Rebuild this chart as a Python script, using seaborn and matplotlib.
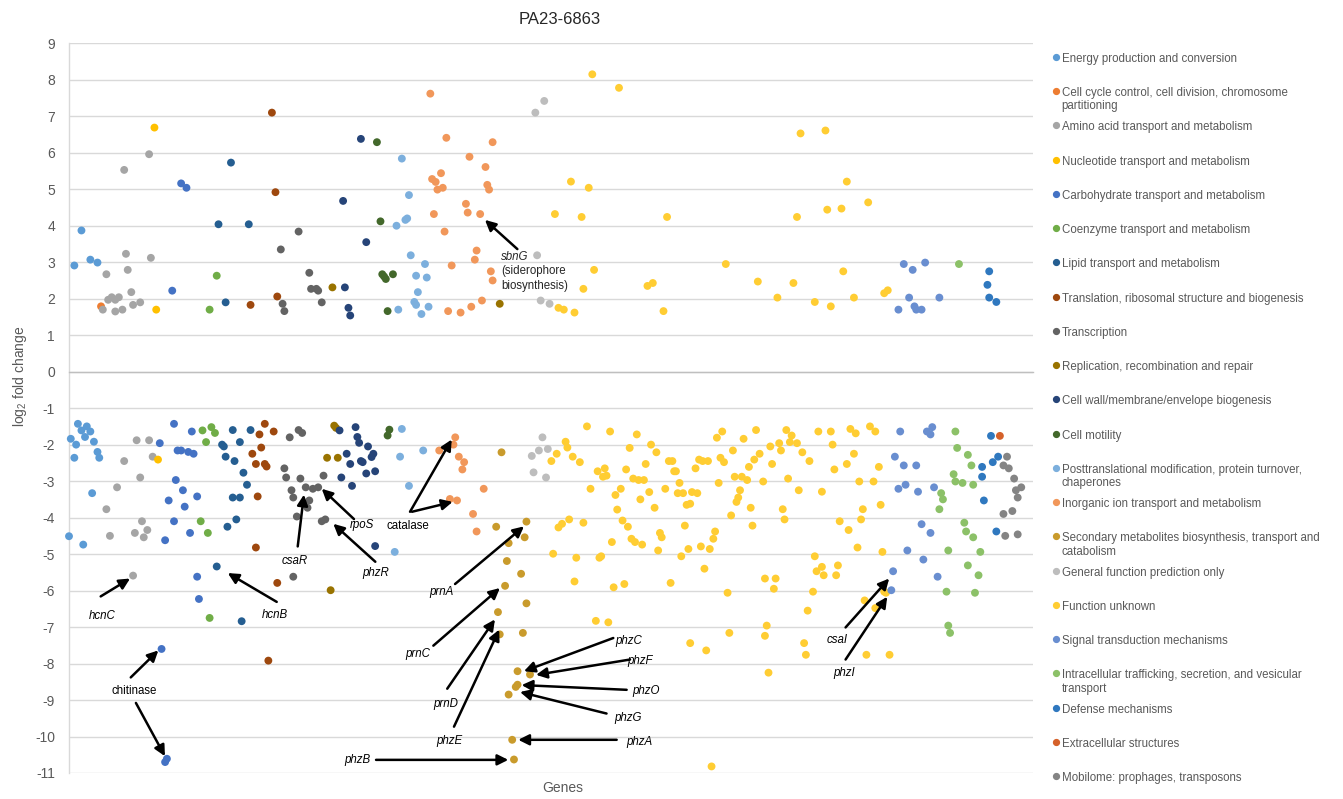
import matplotlib
matplotlib.use("Agg")
import matplotlib.pyplot as plt
from matplotlib.lines import Line2D
import pandas as pd
import seaborn as sns

W, H = 1343, 799

# ── COG categories (legend order) ─────────────────────────────────────────────
CATEGORIES = [
    "Energy production and conversion",
    "Cell cycle control, cell division, chromosome partitioning",
    "Amino acid transport and metabolism",
    "Nucleotide transport and metabolism",
    "Carbohydrate transport and metabolism",
    "Coenzyme transport and metabolism",
    "Lipid transport and metabolism",
    "Translation, ribosomal structure and biogenesis",
    "Transcription",
    "Replication, recombination and repair",
    "Cell wall/membrane/envelope biogenesis",
    "Cell motility",
    "Posttranslational modification, protein turnover, chaperones",
    "Inorganic ion transport and metabolism",
    "Secondary metabolites biosynthesis, transport and catabolism",
    "General function prediction only",
    "Function unknown",
    "Signal transduction mechanisms",
    "Intracellular trafficking, secretion, and vesicular transport",
    "Defense mechanisms",
    "Extracellular structures",
    "Mobilome: prophages, transposons",
]
LEGEND_LABELS = [
    "Energy production and conversion",
    "Cell cycle control, cell division, chromosome\npartitioning",
    "Amino acid transport and metabolism",
    "Nucleotide transport and metabolism",
    "Carbohydrate transport and metabolism",
    "Coenzyme transport and metabolism",
    "Lipid transport and metabolism",
    "Translation, ribosomal structure and biogenesis",
    "Transcription",
    "Replication, recombination and repair",
    "Cell wall/membrane/envelope biogenesis",
    "Cell motility",
    "Posttranslational modification, protein turnover,\nchaperones",
    "Inorganic ion transport and metabolism",
    "Secondary metabolites biosynthesis, transport and\ncatabolism",
    "General function prediction only",
    "Function unknown",
    "Signal transduction mechanisms",
    "Intracellular trafficking, secretion, and vesicular\ntransport",
    "Defense mechanisms",
    "Extracellular structures",
    "Mobilome: prophages, transposons",
]
COLORS = [
    "#5B9BD5", "#ED7D31", "#A5A5A5", "#FFC000", "#4472C4", "#70AD47",
    "#255E91", "#9E480E", "#636363", "#997300", "#264478", "#43682B",
    "#7CAFDD", "#F1975A", "#C99B2C", "#BDBDBD", "#FFCD33", "#698ED0",
    "#8CC168", "#2F78BF", "#D5612A", "#848484",
]

# ── Data: gene position (x) and log2 fold change (y) per category ─────────────
energy_x = [3, 7, 12, 16, 1, 0, 3, 4, 5, 7, 9, 10, 12, 14, 16, 17, 13, 8]
energy_y = [2.91, 3.87, 3.07, 2.99, -1.84, -4.51, -2.36, -2.00, -1.43, -1.61,
            -1.79, -1.50, -1.64, -1.92, -2.20, -2.36, -3.33, -4.74]

cellcycle_x = [18]
cellcycle_y = [1.79]

amino_x = [21, 19, 22, 24, 26, 28, 26, 30, 31, 32, 33, 35, 36, 40, 45, 46,
           31, 38, 45, 47, 40, 27, 21, 23, 37, 41, 44, 42, 36]
amino_y = [2.67, 1.70, 1.97, 2.04, 1.97, 2.04, 1.65, 1.70, 5.53, 3.23, 2.79,
           2.18, 1.83, 1.90, 5.96, 3.12,
           -2.45, -1.88, -1.88, -2.33, -2.90, -3.17, -3.77, -4.50, -4.42,
           -4.10, -4.34, -4.54, -5.59]

nucleotide_x = [48, 49, 50]
nucleotide_y = [6.69, 1.70, -2.41]

carbo_x = [58, 63, 66, 59, 51, 61, 63, 67, 70, 69, 60, 64, 56, 72, 65, 59,
           68, 54, 72, 73, 52, 54, 55]
carbo_y = [2.22, 5.16, 5.04, -1.43, -1.96, -2.16, -2.16, -2.20, -2.25, -1.64,
           -2.97, -3.25, -3.53, -3.42, -3.70, -4.10, -4.42, -4.62, -5.62,
           -6.23, -7.60, -10.70, -10.61]

coenzyme_x = [83, 79, 75, 80, 82, 77, 74, 78, 79]
coenzyme_y = [2.63, 1.70, -1.61, -1.52, -1.68, -1.93, -4.10, -4.42, -6.75]

lipid_x = [84, 91, 88, 101, 86, 87, 92, 102, 96, 88, 93, 98, 100, 92, 96,
           94, 89, 83, 97]
lipid_y = [4.04, 5.73, 1.90, 4.04, -2.00, -2.05, -1.60, -1.60, -1.93, -2.33,
           -2.45, -2.77, -3.10, -3.45, -3.45, -4.05, -4.25, -5.34, -6.84]

translation_x = [114, 116, 102, 117, 110, 107, 115, 108, 103, 105, 110, 111,
                 106, 105, 117, 112]
translation_y = [7.10, 4.92, 1.83, 2.06, -1.43, -1.72, -1.64, -2.08, -2.25,
                 -2.53, -2.53, -2.60, -3.42, -4.82, -5.79, -7.92]

transcription_x = [119, 129, 120, 121, 135, 136, 139, 140, 142,
                   124, 129, 131, 121, 122, 130, 143, 125, 133, 126, 135,
                   134, 137, 140, 128, 142, 144, 126]
transcription_y = [3.35, 3.84, 1.86, 1.66, 2.71, 2.27, 2.27, 2.22, 1.90,
                   -1.80, -1.60, -1.68, -2.65, -2.90, -2.93, -2.85, -3.25,
                   -3.17, -3.45, -3.53, -3.73, -3.21, -3.17, -3.97, -4.10,
                   -4.05, -5.62]

replication_x = [148, 242, 149, 150, 145, 151, 147]
replication_y = [2.31, 1.86, -1.48, -1.54, -2.36, -2.36, -5.99]

cellwall_x = [164, 154, 167, 155, 157, 158, 152, 161, 162, 163, 168, 156,
              171, 170, 164, 165, 158, 172, 167, 153, 159, 172]
cellwall_y = [6.38, 4.68, 3.55, 2.31, 1.75, 1.54, -1.61, -1.52, -1.79, -1.95,
              -2.05, -2.25, -2.25, -2.34, -2.45, -2.48, -2.53, -2.73, -2.79,
              -2.90, -3.13, -4.78]

motility_x = [173, 175, 176, 177, 178, 182, 179, 180, 179]
motility_y = [6.29, 4.12, 2.67, 2.61, 2.54, 2.67, 1.66, -1.59, -1.75]

posttrans_x = [187, 191, 184, 189, 190, 192, 200, 195, 201, 196, 194, 195,
               185, 202, 198, 187, 186, 199, 191, 183]
posttrans_y = [5.84, 4.84, 4.00, 4.16, 4.20, 3.19, 2.95, 2.63, 2.58, 2.18,
               1.91, 1.83, 1.70, 1.78, 1.58, -1.57, -2.33, -2.16, -3.13, -4.94]

inorganic_x = [203, 212, 238, 225, 234, 209, 204, 206, 207, 210, 235, 236,
               223, 205, 224, 231, 211, 229, 228, 215, 237, 238, 232, 226,
               213, 220, 217, 216, 208, 219, 222, 221, 233, 214, 218, 227, 229]
inorganic_y = [7.62, 6.41, 6.29, 5.89, 5.61, 5.44, 5.28, 5.20, 4.99, 5.04,
               5.12, 4.99, 4.60, 4.32, 4.36, 4.32, 3.84, 3.32, 3.07, 2.91,
               2.75, 2.50, 1.95, 1.78, 1.66, 1.62, -1.80, -2.00, -2.16, -2.33,
               -2.48, -2.68, -3.21, -3.49, -3.53, -3.90, -4.38]

secondary_x = [243, 240, 257, 256, 247, 246, 254, 245, 257, 241, 242, 255,
               252, 259, 252, 251, 247, 249, 250]
secondary_y = [-2.21, -4.25, -4.11, -4.54, -4.70, -5.19, -5.54, -5.87, -6.35,
               -6.59, -7.20, -7.16, -8.21, -8.30, -8.58, -8.64, -8.85, -10.09,
               -10.63]

general_x = [262, 267, 263, 265, 270, 260, 264, 269, 266, 261, 268]
general_y = [7.10, 7.42, 3.19, 1.95, 1.86, -2.31, -2.16, -2.12, -1.80, -2.76,
             -2.90]

unknown_x = [294, 309, 282, 292, 273, 288, 295, 289, 275, 278, 284,
             411, 425, 437, 449, 426, 434, 336, 409, 369, 435, 387, 407, 325,
             328, 398, 441, 458, 460, 419, 428, 334,
             291, 304, 279, 280, 274, 283, 271, 287, 297, 301, 300, 302, 313,
             293, 310, 307, 308, 281, 277, 275, 289, 311, 314, 305, 272, 285,
             298, 299, 284, 306, 312, 296, 303,
             319, 315, 327, 330, 324, 317, 320, 323, 337, 339, 340, 341, 343,
             335, 326, 321, 329, 342, 345, 350, 353, 347, 349, 316, 318, 322,
             332, 333, 331, 346, 348, 344, 355, 360, 362, 363, 338, 357,
             354, 356, 359, 352, 364, 367, 365, 366, 368, 373, 379, 374, 378,
             381, 377, 376, 375, 383, 372, 384, 382, 385, 388, 386, 390, 394,
             395, 399, 400, 403, 406, 405, 409, 404, 412, 410, 416, 401, 402,
             421, 428, 429, 423, 430, 437, 441, 439, 442, 450, 453, 444, 452,
             455, 446, 445, 456, 433, 438, 443, 457, 419, 420, 423, 424, 432,
             431, 391, 397, 396, 370, 418, 415, 447, 453, 458, 459, 371, 349,
             358, 392, 391, 413, 414, 448, 461, 393, 361]
unknown_y = [8.15, 7.78, 5.21, 5.04, 4.32, 4.24, 2.79, 2.27, 1.75, 1.70, 1.62,
             6.53, 6.61, 5.21, 4.64, 4.44, 4.47, 4.24, 4.24, 2.95, 2.75, 2.47,
             2.43, 2.35, 2.43, 2.03, 2.03, 2.15, 2.23, 1.91, 1.79, 1.66,
             -1.50, -1.64, -1.92, -2.08, -2.25, -2.33, -2.45, -2.48, -2.73,
             -2.65, -2.88, -2.85, -2.68, -3.21, -3.21, -3.38, -3.78, -4.05,
             -4.17, -4.27, -4.14, -4.08, -4.25, -4.67, -4.99, -5.10, -5.10,
             -5.06, -5.75, -5.91, -5.82, -6.83, -6.87,
             -1.72, -2.09, -2.00, -2.21, -2.53, -2.93, -2.97, -2.97, -2.45,
             -2.45, -2.73, -2.73, -3.05, -3.21, -3.30, -3.50, -3.73, -3.33,
             -3.33, -3.30, -3.33, -3.65, -3.62, -4.58, -4.67, -4.74, -4.42,
             -4.54, -4.90, -4.22, -4.86, -5.06, -4.79, -4.86, -4.58, -4.38,
             -5.79, -5.40,
             -2.41, -2.45, -2.45, -2.65, -1.81, -1.64, -3.05, -2.36, -2.48,
             -2.16, -1.84, -2.88, -2.88, -2.97, -3.25, -3.45, -3.57, -3.73,
             -3.94, -4.22, -2.61, -2.41, -2.25, -1.60, -3.01, -2.05, -2.53,
             -1.96, -2.16, -1.60, -1.75, -1.93, -1.96, -2.93, -2.21, -3.25,
             -2.45, -3.77, -4.05,
             -1.64, -1.64, -2.00, -3.29, -2.68, -2.53, -2.25, -1.57, -1.69,
             -1.50, -1.64, -3.01, -3.01, -2.61, -3.77, -4.05, -3.65, -4.10,
             -4.34, -4.82, -4.94, -5.06, -5.47, -5.35, -5.58, -5.31, -5.58,
             -5.67, -5.67, -5.95, -6.06, -6.03, -6.55, -6.27, -6.48, -6.03,
             -6.06, -7.16, -7.44, -7.64, -6.96, -7.24, -7.44, -7.76, -7.76,
             -7.76, -8.25, -10.82]

signal_x = [469, 474, 481, 472, 489, 466, 475, 476, 479, 467, 482, 484, 485,
            464, 469, 476, 466, 470, 477, 486, 479, 484, 471, 480, 488, 463,
            462]
signal_y = [2.95, 2.79, 2.99, 2.03, 2.03, 1.70, 1.79, 1.70, 1.70, -1.64,
            -1.64, -1.72, -1.52, -2.33, -2.57, -2.57, -3.21, -3.10, -3.29,
            -3.17, -4.18, -4.42, -4.90, -5.15, -5.62, -5.47, -5.99]

intracellular_x = [500, 498, 499, 505, 507, 497, 498, 502, 508, 490, 491,
                   489, 503, 504, 508, 494, 512, 505, 511, 493, 509, 494, 495]
intracellular_y = [2.95, -1.64, -2.09, -2.28, -2.57, -2.81, -3.01, -3.05,
                   -3.10, -3.33, -3.50, -3.77, -4.14, -4.38, -4.54, -4.90,
                   -4.94, -5.31, -5.58, -6.03, -6.06, -6.96, -7.16]

defense_x = [517, 516, 517, 521, 518, 522, 519, 513, 513, 514, 521]
defense_y = [2.75, 2.38, 2.03, 1.91, -1.76, -2.33, -2.48, -2.61, -2.88,
             -3.53, -4.38]

extracellular_x = [523]
extracellular_y = [-1.76]

mobilome_x = [527, 525, 528, 531, 532, 535, 533, 525, 530, 526, 533]
mobilome_y = [-2.33, -2.57, -2.65, -2.93, -3.25, -3.17, -3.45, -3.90, -3.82,
              -4.50, -4.46]

SERIES = [
    (energy_x, energy_y), (cellcycle_x, cellcycle_y), (amino_x, amino_y),
    (nucleotide_x, nucleotide_y), (carbo_x, carbo_y),
    (coenzyme_x, coenzyme_y), (lipid_x, lipid_y),
    (translation_x, translation_y), (transcription_x, transcription_y),
    (replication_x, replication_y), (cellwall_x, cellwall_y),
    (motility_x, motility_y), (posttrans_x, posttrans_y),
    (inorganic_x, inorganic_y), (secondary_x, secondary_y),
    (general_x, general_y), (unknown_x, unknown_y), (signal_x, signal_y),
    (intracellular_x, intracellular_y), (defense_x, defense_y),
    (extracellular_x, extracellular_y), (mobilome_x, mobilome_y),
]

# ── Gene annotations: (label, text position, italic, arrow start/end list) ────
ANNOTATIONS = [
    ("hcnC", (18.9, -6.70), True, [((17.8, -6.16), (34.3, -5.67))]),
    ("hcnB", (115.6, -6.68), True, [((116.7, -6.31), (89.2, -5.52))]),
    ("csaR", (127.0, -5.20), True, [((128.5, -4.79), (132.0, -3.37))]),
    ("rpoS", (164.6, -4.21), True, [((160.1, -4.04), (142.0, -3.21))]),
    ("phzR", (172.2, -5.53), True, [((172.1, -5.21), (148.5, -4.17))]),
    ("catalase", (190.3, -4.24), False, [((191.6, -3.84), (215.0, -1.86)),
                                         ((192.7, -3.84), (215.5, -3.57))]),
    ("prnA", (209.3, -6.05), True, [((216.9, -5.82), (255.6, -4.24))]),
    ("prnC", (196.2, -7.73), True, [((204.7, -7.51), (242.1, -5.93))]),
    ("prnD", (211.8, -9.10), True, [((212.5, -8.69), (239.3, -6.79))]),
    ("phzE", (213.7, -10.12), True, [((216.3, -9.73), (241.7, -7.07))]),
    ("phzB", (161.8, -10.63), True, [((172.5, -10.64), (246.8, -10.64))]),
    ("phzC", (314.2, -7.37), True, [((305.8, -7.30), (255.6, -8.21))]),
    ("phzF", (320.8, -7.92), True, [((315.2, -7.89), (262.4, -8.31))]),
    ("phzO", (324.2, -8.74), True, [((313.3, -8.72), (254.3, -8.59))]),
    ("phzG", (314.2, -9.48), True, [((302.0, -9.37), (253.4, -8.78))]),
    ("phzA", (320.6, -10.16), True, [((307.7, -10.09), (252.4, -10.09))]),
    ("csaI", (431.7, -7.36), True, [((436.3, -7.01), (460.8, -5.67))]),
    ("phzI", (435.4, -8.27), True, [((436.3, -7.89), (459.7, -6.17))]),
    ("chitinase", (36.4, -8.74), False, [((34.7, -8.38), (50.2, -7.64)),
                                          ((37.6, -9.08), (53.9, -10.54))]),
]

frames = []
for cat, (xs, ys) in zip(CATEGORIES, SERIES):
    frames.append(pd.DataFrame({"gene": xs, "log2fc": ys, "cog": cat}))
df = pd.concat(frames, ignore_index=True)

sns.set_style("white")
plt.rcParams["font.family"] = ["Liberation Sans", "DejaVu Sans"]
plt.rcParams["mathtext.fontset"] = "custom"
plt.rcParams["mathtext.rm"] = "Liberation Sans"
plt.rcParams["mathtext.it"] = "Liberation Sans:italic"
plt.rcParams["axes.unicode_minus"] = False

GRAY_TXT = "#595959"
ARROW = dict(arrowstyle="-|>", color="black", lw=1.8, mutation_scale=16,
             shrinkA=0, shrinkB=0)

fig = plt.figure(figsize=(W / 100, H / 100), dpi=100)
ax = fig.add_axes([69 / W, 1 - 773 / H, (1033 - 69) / W, (773 - 43.3) / H])

sns.scatterplot(
    data=df, x="gene", y="log2fc", hue="cog", hue_order=CATEGORIES,
    palette=dict(zip(CATEGORIES, COLORS)), s=32, linewidth=0,
    legend=False, ax=ax, clip_on=False, zorder=3,
)

# ── Axes styling (Excel-like) ─────────────────────────────────────────────────
ax.set_xlim(0, 541.6)
ax.set_ylim(-11, 9)
ax.set_yticks(range(-11, 10))
ax.set_xticks(range(0, 600, 100))
ax.grid(axis="y", color="#D9D9D9", lw=1.0)
ax.grid(axis="x", visible=False)
ax.set_axisbelow(True)
for side in ("top", "right"):
    ax.spines[side].set_visible(False)
ax.spines["left"].set_color("#D9D9D9")
ax.spines["left"].set_linewidth(1.0)
ax.spines["bottom"].set_position(("data", 0))
ax.spines["bottom"].set_color("#BFBFBF")
ax.spines["bottom"].set_linewidth(1.0)
ax.tick_params(axis="x", direction="out", length=5, width=1, color="#BFBFBF",
               labelbottom=False)
ax.tick_params(axis="y", length=0, pad=10, labelsize=10, labelcolor=GRAY_TXT)

ax.set_xlabel("Genes", fontsize=10, color=GRAY_TXT)
ax.xaxis.set_label_coords(0.512, -0.011)
ax.set_ylabel(r"log$_2$ fold change", fontsize=10, color=GRAY_TXT)
ax.yaxis.set_label_coords(-0.042, 0.544)

fig.text(560 / W, 1 - 19 / H, "PA23-6863", ha="center", va="center",
         fontsize=12, color="#262626")

# ── Annotations ───────────────────────────────────────────────────────────────
for label, pos, italic, arrows in ANNOTATIONS:
    ax.text(pos[0], pos[1], label, ha="center", va="center", fontsize=8.3,
            style="italic" if italic else "normal", color="black", zorder=5)
    for start, end in arrows:
        ax.annotate("", xy=end, xytext=start, zorder=5, arrowprops=ARROW)

ax.text(242.7, 3.14, "sbnG", ha="left", va="center", fontsize=8.3,
        style="italic", zorder=5)
ax.text(242.7, 2.75, "(siderophore", ha="left", va="center", fontsize=8.3,
        zorder=5)
ax.text(242.7, 2.36, "biosynthesis)", ha="left", va="center", fontsize=8.3,
        zorder=5)
ax.annotate("", xy=(233.7, 4.16), xytext=(251.9, 3.36), zorder=5,
            arrowprops=ARROW)

# ── Legend (Excel style: fixed slots, wrapped labels) ─────────────────────────
for i, (lab, col) in enumerate(zip(LEGEND_LABELS, COLORS)):
    ypx = 58.3 + i * 34.25
    fig.add_artist(Line2D([1055.7 / W], [1 - (ypx - 1.5) / H], marker="o",
                          ms=4.2, color=col, linestyle="none",
                          transform=fig.transFigure))
    fig.text(1061.7 / W, 1 - (ypx - 5.5) / H, lab, ha="left", va="top",
             fontsize=8.3, color=GRAY_TXT, linespacing=1.15)

fig.savefig("out.png", dpi=100)
plt.close(fig)
